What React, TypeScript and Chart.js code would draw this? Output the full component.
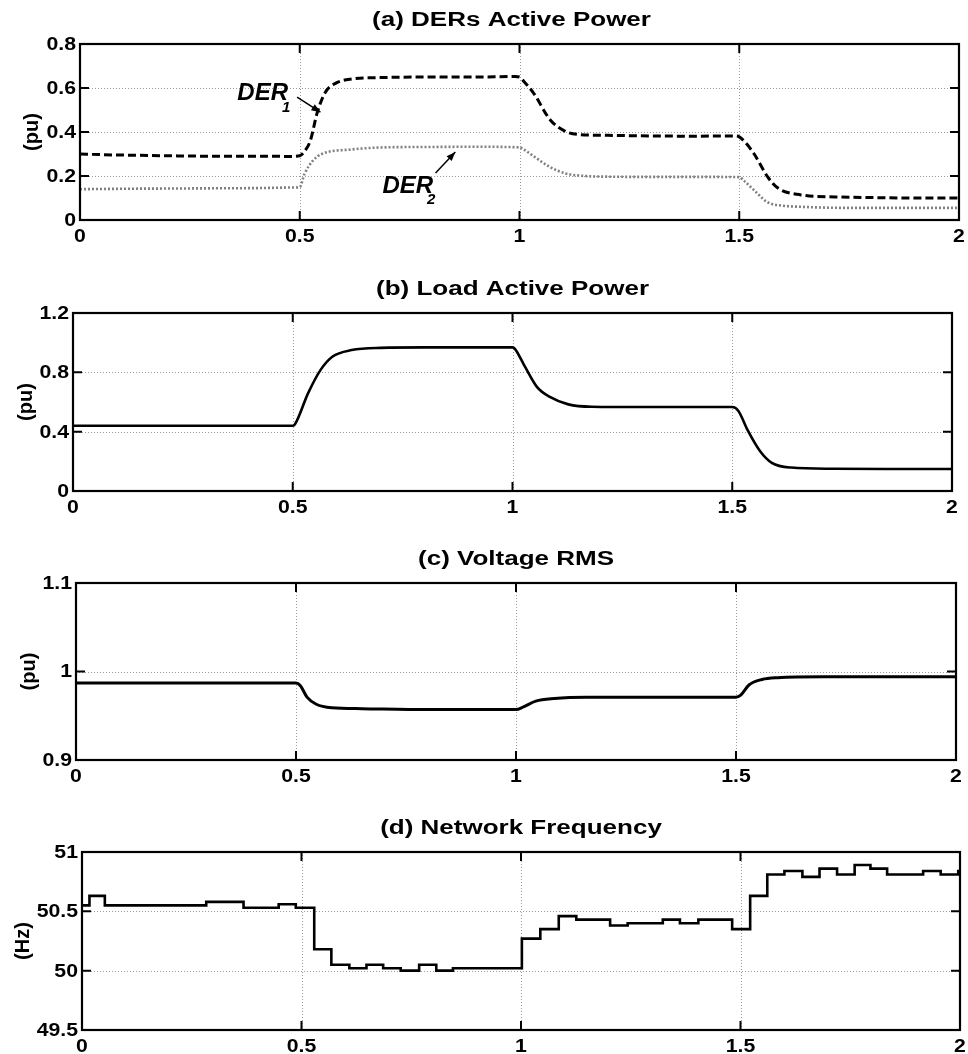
import React, { useEffect, useRef } from "react";
import { Chart, registerables } from "chart.js";

Chart.register(...registerables);

// ---------- shared x axis ----------
const xTicks = [0, 0.5, 1, 1.5, 2];
const xTickLabels = ["0", "0.5", "1", "1.5", "2"];

// ---------- (a) DERs Active Power ----------
const der1Time = [0, 0.05, 0.1, 0.2, 0.3, 0.4, 0.48, 0.5, 0.51, 0.524, 0.54, 0.558, 0.58, 0.615, 0.7, 0.8, 0.9, 0.99, 1.0, 1.01, 1.032, 1.07, 1.108, 1.14, 1.2, 1.3, 1.4, 1.49, 1.5, 1.515, 1.534, 1.565, 1.588, 1.64, 1.717, 1.8, 1.9, 2.0];
const der1Power = [0.3, 0.297, 0.295, 0.292, 0.29, 0.29, 0.289, 0.292, 0.31, 0.36, 0.49, 0.58, 0.62, 0.64, 0.648, 0.65, 0.65, 0.652, 0.65, 0.63, 0.577, 0.455, 0.4, 0.388, 0.385, 0.382, 0.381, 0.382, 0.378, 0.35, 0.3, 0.195, 0.145, 0.114, 0.105, 0.102, 0.1, 0.1];
const der2Time = [0, 0.1, 0.2, 0.3, 0.4, 0.49, 0.5, 0.511, 0.53, 0.55, 0.615, 0.69, 0.8, 0.9, 1.0, 1.01, 1.032, 1.07, 1.108, 1.15, 1.2, 1.3, 1.4, 1.5, 1.51, 1.534, 1.565, 1.6, 1.64, 1.75, 2.0];
const der2Power = [0.14, 0.142, 0.143, 0.144, 0.145, 0.148, 0.15, 0.21, 0.27, 0.3, 0.32, 0.33, 0.332, 0.333, 0.33, 0.32, 0.29, 0.24, 0.21, 0.2, 0.197, 0.196, 0.196, 0.195, 0.18, 0.135, 0.08, 0.065, 0.06, 0.055, 0.055];
const aYTicks = [0, 0.2, 0.4, 0.6, 0.8];
const aYTickLabels = ["0", "0.2", "0.4", "0.6", "0.8"];

// ---------- (b) Load Active Power ----------
const loadTime = [0, 0.5, 0.505, 0.535, 0.563, 0.59, 0.634, 0.7, 0.8, 0.9, 1.0, 1.005, 1.028, 1.056, 1.085, 1.127, 1.18, 1.3, 1.4, 1.5, 1.514, 1.535, 1.563, 1.59, 1.634, 1.73, 1.85, 2.0];
const loadPower = [0.44, 0.44, 0.45, 0.66, 0.815, 0.905, 0.95, 0.965, 0.968, 0.968, 0.968, 0.96, 0.84, 0.7, 0.634, 0.584, 0.568, 0.566, 0.566, 0.566, 0.54, 0.41, 0.27, 0.19, 0.158, 0.15, 0.148, 0.148];
const bYTicks = [0, 0.4, 0.8, 1.2];
const bYTickLabels = ["0", "0.4", "0.8", "1.2"];

// ---------- (c) Voltage RMS ----------
const voltTime = [0, 0.5, 0.51, 0.525, 0.546, 0.581, 0.65, 0.8, 1.0, 1.017, 1.045, 1.087, 1.16, 1.3, 1.5, 1.51, 1.53, 1.559, 1.594, 1.7, 2.0];
const voltRms = [0.987, 0.987, 0.984, 0.971, 0.963, 0.959, 0.958, 0.957, 0.957, 0.96, 0.9665, 0.9695, 0.971, 0.971, 0.971, 0.973, 0.985, 0.991, 0.993, 0.994, 0.994];
const cYTicks = [0.9, 1, 1.1];
const cYTickLabels = ["0.9", "1", "1.1"];

// ---------- (d) Network Frequency (step starts) ----------
const freqTime = [0, 0.017, 0.052, 0.283, 0.368, 0.448, 0.487, 0.529, 0.568, 0.609, 0.648, 0.686, 0.726, 0.768, 0.807, 0.845, 1.002, 1.044, 1.086, 1.126, 1.203, 1.243, 1.323, 1.362, 1.404, 1.481, 1.522, 1.561, 1.6, 1.641, 1.68, 1.72, 1.76, 1.796, 1.834, 1.916, 1.956, 1.996, 2.0];
const freqHz = [50.55, 50.63, 50.55, 50.58, 50.53, 50.56, 50.53, 50.18, 50.05, 50.02, 50.05, 50.02, 50.0, 50.05, 50.0, 50.02, 50.27, 50.35, 50.46, 50.43, 50.38, 50.4, 50.43, 50.4, 50.43, 50.35, 50.63, 50.81, 50.84, 50.79, 50.86, 50.81, 50.89, 50.86, 50.81, 50.84, 50.81, 50.84, 50.84];
const dYTicks = [49.5, 50, 50.5, 51];
const dYTickLabels = ["49.5", "50", "50.5", "51"];

const FONT = "'Liberation Sans', Arial, sans-serif";
const W = 968;
const TOP_PAD = 44;
const BOTTOM_PAD = 24;
const TICK_SX = 1.18;
const TITLE_SX = 1.3;

type Annot = { text: string; sub: string; tx: number; ty: number; ax1: number; ay1: number; ax2: number; ay2: number };

type PanelCfg = {
  title: string;
  titleDx: number;
  yLabel: string;
  yLabelX: number;
  top: number;
  bottom: number;
  left: number;
  right: number;
  yMin: number;
  yMax: number;
  yTicks: number[];
  yTickLabels: string[];
  datasets: any[];
  annotations?: Annot[];
};

const toPts = (xs: number[], ys: number[]) => xs.map((x, i) => ({ x, y: ys[i] }));

function stretchedText(ctx: CanvasRenderingContext2D, s: string, x: number, y: number, sx: number) {
  ctx.save();
  ctx.translate(x, y);
  ctx.scale(sx, 1);
  ctx.fillText(s, 0, 0);
  ctx.restore();
}

function makePlugin(cfg: PanelCfg) {
  return {
    id: "frame",
    beforeDatasetsDraw(chart: any) {
      const { ctx, chartArea: a, scales } = chart;
      const x = scales.x;
      const y = scales.y;
      ctx.save();
      ctx.strokeStyle = "#9a9a9a";
      ctx.lineWidth = 1;
      ctx.setLineDash([1, 2]);
      xTicks.slice(1, -1).forEach((v) => {
        const px = Math.round(x.getPixelForValue(v)) + 0.5;
        ctx.beginPath();
        ctx.moveTo(px, a.top);
        ctx.lineTo(px, a.bottom);
        ctx.stroke();
      });
      cfg.yTicks.slice(1, -1).forEach((v) => {
        const py = Math.round(y.getPixelForValue(v)) + 0.5;
        ctx.beginPath();
        ctx.moveTo(a.left, py);
        ctx.lineTo(a.right, py);
        ctx.stroke();
      });
      ctx.restore();
    },
    afterDatasetsDraw(chart: any) {
      const { ctx, chartArea: a, scales } = chart;
      const x = scales.x;
      const y = scales.y;
      ctx.save();
      ctx.setLineDash([]);
      ctx.strokeStyle = "#000";
      ctx.lineWidth = 2.2;
      ctx.strokeRect(a.left, a.top, a.right - a.left, a.bottom - a.top);
      const tl = 9;
      ctx.lineWidth = 2;
      xTicks.slice(1, -1).forEach((v) => {
        const px = x.getPixelForValue(v);
        ctx.beginPath();
        ctx.moveTo(px, a.top);
        ctx.lineTo(px, a.top + tl);
        ctx.moveTo(px, a.bottom);
        ctx.lineTo(px, a.bottom - tl);
        ctx.stroke();
      });
      cfg.yTicks.slice(1, -1).forEach((v) => {
        const py = y.getPixelForValue(v);
        ctx.beginPath();
        ctx.moveTo(a.left, py);
        ctx.lineTo(a.left + tl, py);
        ctx.moveTo(a.right, py);
        ctx.lineTo(a.right - tl, py);
        ctx.stroke();
      });
      ctx.fillStyle = "#000";
      // tick labels
      ctx.font = `bold 18px ${FONT}`;
      ctx.textBaseline = "alphabetic";
      ctx.textAlign = "center";
      xTicks.forEach((v, i) => {
        stretchedText(ctx, xTickLabels[i], x.getPixelForValue(v), a.bottom + 22, TICK_SX);
      });
      ctx.textAlign = "right";
      ctx.textBaseline = "middle";
      cfg.yTicks.forEach((v, i) => {
        stretchedText(ctx, cfg.yTickLabels[i], a.left - 4, y.getPixelForValue(v) + 1, TICK_SX);
      });
      // title
      ctx.font = `bold 20px ${FONT}`;
      ctx.textAlign = "center";
      ctx.textBaseline = "middle";
      stretchedText(ctx, cfg.title, (a.left + a.right) / 2 + cfg.titleDx, a.top - 24, TITLE_SX);
      // y label
      ctx.save();
      ctx.translate(cfg.yLabelX, (a.top + a.bottom) / 2);
      ctx.rotate(-Math.PI / 2);
      ctx.font = `bold 20px ${FONT}`;
      ctx.fillText(cfg.yLabel, 0, 0);
      ctx.restore();
      // annotations
      (cfg.annotations || []).forEach((an) => {
        const tx = x.getPixelForValue(an.tx);
        const ty = y.getPixelForValue(an.ty);
        ctx.font = `italic bold 24px ${FONT}`;
        ctx.textAlign = "left";
        ctx.textBaseline = "middle";
        ctx.fillText(an.text, tx, ty);
        const w = ctx.measureText(an.text).width;
        ctx.font = `italic bold 15px ${FONT}`;
        ctx.fillText(an.sub, tx + w - 6, ty + 14);
        const x1 = x.getPixelForValue(an.ax1);
        const y1 = y.getPixelForValue(an.ay1);
        const x2 = x.getPixelForValue(an.ax2);
        const y2 = y.getPixelForValue(an.ay2);
        ctx.lineWidth = 1.5;
        ctx.beginPath();
        ctx.moveTo(x1, y1);
        ctx.lineTo(x2, y2);
        ctx.stroke();
        const ang = Math.atan2(y2 - y1, x2 - x1);
        const hl = 9;
        const hw = 3.5;
        ctx.beginPath();
        ctx.moveTo(x2, y2);
        ctx.lineTo(x2 - hl * Math.cos(ang) + hw * Math.sin(ang), y2 - hl * Math.sin(ang) - hw * Math.cos(ang));
        ctx.lineTo(x2 - hl * Math.cos(ang) - hw * Math.sin(ang), y2 - hl * Math.sin(ang) + hw * Math.cos(ang));
        ctx.closePath();
        ctx.fill();
      });
      ctx.restore();
    },
  };
}

function Panel({ cfg }: { cfg: PanelCfg }) {
  const ref = useRef<HTMLCanvasElement>(null);
  const height = cfg.bottom - cfg.top + TOP_PAD + BOTTOM_PAD;
  useEffect(() => {
    if (!ref.current) return;
    const chart = new Chart(ref.current, {
      type: "line",
      data: { datasets: cfg.datasets },
      options: {
        animation: false,
        responsive: false,
        devicePixelRatio: 1,
        layout: { padding: { top: TOP_PAD, right: W - cfg.right, bottom: 0, left: 0 } },
        plugins: { legend: { display: false }, title: { display: false }, tooltip: { enabled: false } },
        elements: { point: { radius: 0 } },
        scales: {
          x: {
            type: "linear",
            min: 0,
            max: 2,
            grid: { display: false, drawTicks: false },
            border: { display: false },
            ticks: { display: false },
            afterBuildTicks: (s: any) => {
              s.ticks = xTicks.map((v) => ({ value: v }));
            },
            afterFit: (s: any) => {
              s.height = BOTTOM_PAD;
              s.paddingLeft = 0;
              s.paddingRight = 0;
            },
          },
          y: {
            type: "linear",
            min: cfg.yMin,
            max: cfg.yMax,
            grid: { display: false, drawTicks: false },
            border: { display: false },
            ticks: { display: false },
            afterBuildTicks: (s: any) => {
              s.ticks = cfg.yTicks.map((v) => ({ value: v }));
            },
            afterFit: (s: any) => {
              s.width = cfg.left;
              s.paddingTop = 0;
              s.paddingBottom = 0;
            },
          },
        },
      },
      plugins: [makePlugin(cfg)],
    } as any);
    return () => chart.destroy();
  }, []);
  return (
    <canvas
      ref={ref}
      width={W}
      height={height}
      style={{ position: "absolute", left: 0, top: cfg.top - TOP_PAD, width: W, height }}
    />
  );
}

const solid = (xs: number[], ys: number[], width = 2.6) => ({
  data: toPts(xs, ys),
  borderColor: "#000",
  borderWidth: width,
  pointRadius: 0,
  cubicInterpolationMode: "monotone",
  fill: false,
});

const panels: PanelCfg[] = [
  {
    title: "(a) DERs Active Power",
    titleDx: -8,
    yLabel: "(pu)",
    yLabelX: 32,
    top: 44,
    bottom: 220,
    left: 80,
    right: 959,
    yMin: 0,
    yMax: 0.8,
    yTicks: aYTicks,
    yTickLabels: aYTickLabels,
    datasets: [
      {
        data: toPts(der2Time, der2Power),
        borderColor: "#808080",
        borderWidth: 2.6,
        borderDash: [2, 2],
        pointRadius: 0,
        cubicInterpolationMode: "monotone",
        fill: false,
      },
      {
        data: toPts(der1Time, der1Power),
        borderColor: "#000",
        borderWidth: 3,
        borderDash: [8, 4],
        pointRadius: 0,
        cubicInterpolationMode: "monotone",
        fill: false,
      },
    ],
    annotations: [
      { text: "DER", sub: "1", tx: 0.358, ty: 0.575, ax1: 0.494, ay1: 0.559, ax2: 0.547, ay2: 0.49 },
      { text: "DER", sub: "2", tx: 0.688, ty: 0.155, ax1: 0.809, ay1: 0.214, ax2: 0.854, ay2: 0.309 },
    ],
  },
  {
    title: "(b) Load Active Power",
    titleDx: 0,
    yLabel: "(pu)",
    yLabelX: 26,
    top: 313,
    bottom: 491,
    left: 73,
    right: 952,
    yMin: 0,
    yMax: 1.2,
    yTicks: bYTicks,
    yTickLabels: bYTickLabels,
    datasets: [solid(loadTime, loadPower)],
  },
  {
    title: "(c) Voltage RMS",
    titleDx: 0,
    yLabel: "(pu)",
    yLabelX: 29,
    top: 583,
    bottom: 760,
    left: 76,
    right: 956,
    yMin: 0.9,
    yMax: 1.1,
    yTicks: cYTicks,
    yTickLabels: cYTickLabels,
    datasets: [solid(voltTime, voltRms, 3)],
  },
  {
    title: "(d) Network Frequency",
    titleDx: 0,
    yLabel: "(Hz)",
    yLabelX: 23,
    top: 852,
    bottom: 1030,
    left: 82,
    right: 960,
    yMin: 49.5,
    yMax: 51,
    yTicks: dYTicks,
    yTickLabels: dYTickLabels,
    datasets: [
      {
        data: toPts(freqTime, freqHz),
        borderColor: "#000",
        borderWidth: 2.6,
        pointRadius: 0,
        stepped: "before",
        fill: false,
      },
    ],
  },
];

export default function App() {
  return (
    <div style={{ position: "absolute", left: 0, top: 0, width: W, height: 1054, background: "#fff" }}>
      {panels.map((p, i) => (
        <Panel key={i} cfg={p} />
      ))}
    </div>
  );
}
